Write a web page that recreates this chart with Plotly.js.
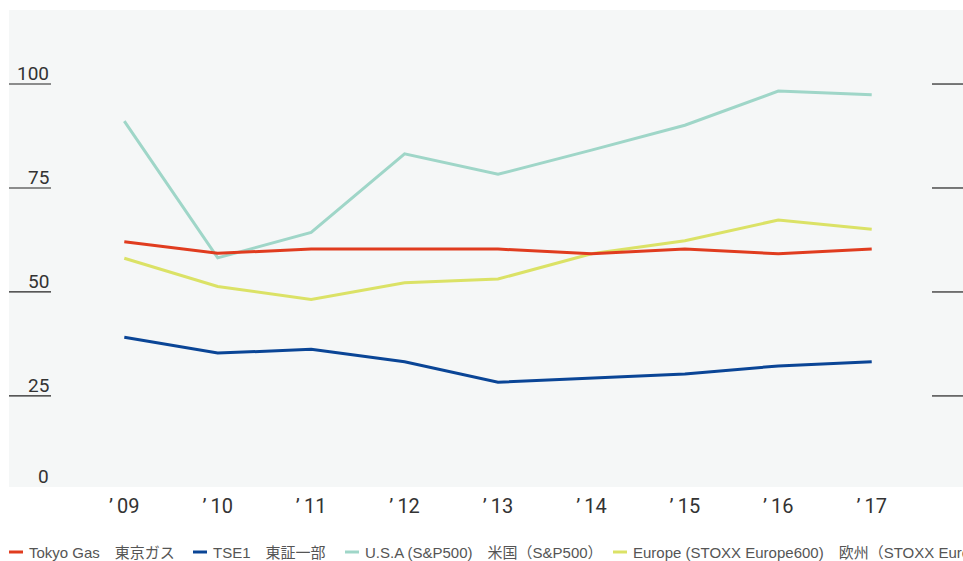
<!DOCTYPE html>
<html>
<head>
<meta charset="utf-8">
<script src="https://cdn.plot.ly/plotly-3.0.1.min.js"></script>
<style>
html,body{margin:0;padding:0;background:#fff;}
#chart{width:963px;height:561px;}
</style>
</head>
<body>
<div id="chart"></div>
<script>
// ---- data ----
const years = ["’\u200909", "’\u200910", "’\u200911", "’\u200912", "’\u200913", "’\u200914", "’\u200915", "’\u200916", "’\u200917"];
const tokyoGas = [62.1, 59.3, 60.3, 60.3, 60.3, 59.2, 60.3, 59.2, 60.3];
const tse1 = [39.1, 35.3, 36.2, 33.2, 28.3, 29.3, 30.3, 32.2, 33.2];
const usa = [91.1, 58.2, 64.3, 83.2, 78.3, 84.1, 90.1, 98.3, 97.4];
const europe = [58.1, 51.3, 48.2, 52.2, 53.1, 59.2, 62.3, 67.3, 65.1];
const seriesNames = ["Tokyo Gas\u3000東京ガス", "TSE1\u3000東証一部", "U.S.A (S&P500)\u3000米国（S&P500）", "Europe (STOXX Europe600)\u3000欧州（STOXX Europe600）"];
const seriesColors = ["#e03c1f", "#0a4596", "#9fd6c8", "#dbe266"];
const yTicks = [0, 25, 50, 75, 100];

// ---- layout helpers (page pixels -> paper coords) ----
const W = 963, H = 561;
const M = {l: 9, r: 0, t: 10, b: 74};
const PW = W - M.l - M.r, PH = H - M.t - M.b;
const px2x = p => (p - M.l) / PW;
const py2y = p => (H - M.b - p) / PH;
const yRange = [3.1, 117.8];

const digitFont = 'Roboto, "DejaVu Sans Condensed", sans-serif';
const legendFont = '"Liberation Sans", "Noto Sans CJK JP", sans-serif';

const seriesData = [tokyoGas, tse1, usa, europe];
const xIdx = years.map((_, i) => i);
const drawOrder = [2, 3, 0, 1];
const traces = drawOrder.map(k => ({
  type: 'scatter', mode: 'lines',
  x: xIdx, y: seriesData[k], name: seriesNames[k],
  line: {color: seriesColors[k], width: 3},
  hoverinfo: 'skip', showlegend: false
}));

const shapes = [];
const annotations = [];
yTicks.forEach(v => {
  if (v >= yRange[0]) {
    shapes.push({type: 'line', xref: 'paper', yref: 'y', x0: 0, x1: px2x(51), y0: v, y1: v,
      line: {color: '#222', width: 1.2}});
    shapes.push({type: 'line', xref: 'paper', yref: 'y', x0: px2x(932), x1: 1, y0: v, y1: v,
      line: {color: '#222', width: 1.2}});
    annotations.push({xref: 'paper', yref: 'y', x: px2x(51), y: v, xanchor: 'right', yanchor: 'bottom',
      text: String(v), showarrow: false, font: {family: digitFont, size: 19, color: '#333'}, yshift: -3});
  } else {
    annotations.push({xref: 'paper', yref: 'paper', x: px2x(51), y: 0, xanchor: 'right', yanchor: 'bottom',
      text: String(v), showarrow: false, font: {family: digitFont, size: 19, color: '#333'}, yshift: -3});
  }
});

// legend
const legendDash = [9, 193, 345, 613];
const legY = py2y(552);
seriesNames.forEach((n, k) => {
  shapes.push({type: 'line', xref: 'paper', yref: 'paper', x0: px2x(legendDash[k]), x1: px2x(legendDash[k] + 14),
    y0: legY, y1: legY, line: {color: seriesColors[k], width: 3}});
  annotations.push({xref: 'paper', yref: 'paper', x: px2x(legendDash[k] + 18), y: legY, xanchor: 'left', yanchor: 'middle',
    text: n, showarrow: false, font: {family: legendFont, size: 15, color: '#555'}});
});

const layout = {
  width: W, height: H,
  margin: M,
  paper_bgcolor: '#ffffff',
  plot_bgcolor: '#f5f7f7',
  showlegend: false,
  xaxis: {range: [-1.234, 8.977], tickvals: xIdx, ticktext: years, showgrid: false, zeroline: false,
    showline: false, ticks: '', ticklabelstandoff: 5, tickfont: {family: digitFont, size: 20, color: '#333'}, fixedrange: true},
  yaxis: {range: yRange, showgrid: false, zeroline: false, showline: false, showticklabels: false, ticks: '', fixedrange: true},
  shapes: shapes,
  annotations: annotations
};

Plotly.newPlot('chart', traces, layout, {displayModeBar: false, staticPlot: true});
</script>
</body>
</html>
